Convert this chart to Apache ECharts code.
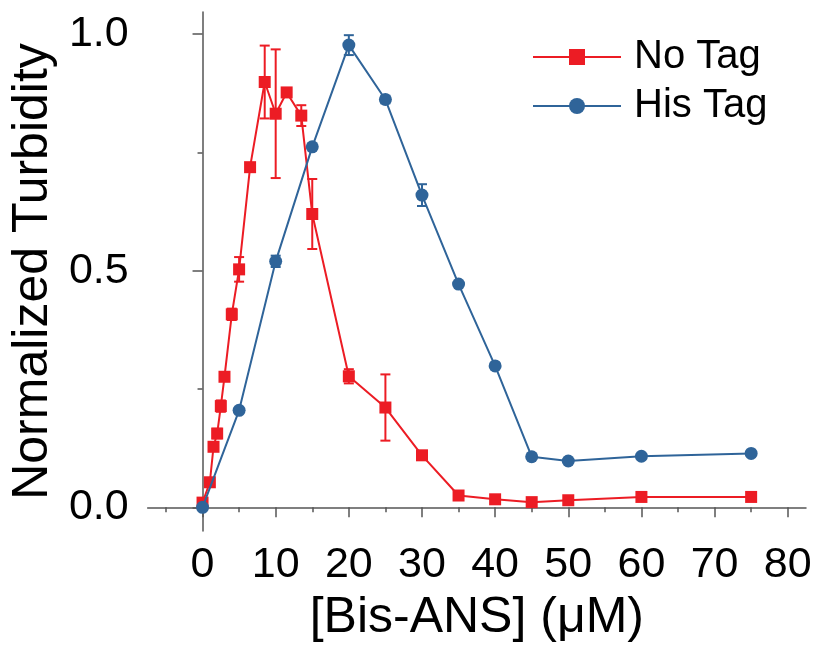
<!DOCTYPE html>
<html>
<head>
<meta charset="utf-8">
<script src="https://cdn.jsdelivr.net/npm/echarts@6/dist/echarts.min.js"></script>
<style>html,body{margin:0;padding:0;background:#fff}#c{width:815px;height:648px}</style>
</head>
<body>
<div id="c"></div>
<script>
// ---- data ----
var noTagX   = [0, 1, 1.5, 2, 2.5, 3, 4, 5, 6.5, 8.5, 10, 11.5, 13.5, 15, 20, 25, 30, 35, 40, 45, 50, 60, 75];
var noTagY   = [0.01, 0.053, 0.128, 0.156, 0.214, 0.276, 0.408, 0.503, 0.719, 0.899, 0.832, 0.877, 0.828, 0.62, 0.277, 0.211, 0.11, 0.025, 0.017, 0.011, 0.015, 0.022, 0.022];
var noTagErr = [0.008, 0, 0, 0.01, 0.012, 0, 0.012, 0.026, 0, 0.077, 0.136, 0, 0.022, 0.074, 0.015, 0.07, 0, 0, 0, 0, 0, 0, 0];
var hisTagX   = [0, 5, 10, 15, 20, 25, 30, 35, 40, 45, 50, 60, 75];
var hisTagY   = [0.0, 0.205, 0.52, 0.762, 0.977, 0.862, 0.66, 0.472, 0.299, 0.107, 0.098, 0.108, 0.114];
var hisTagErr = [0, 0, 0.012, 0, 0.021, 0.008, 0.023, 0, 0, 0, 0, 0, 0];
var xMajorTicks = [0, 10, 20, 30, 40, 50, 60, 70, 80];
var xMinorTicks = [-5, 5, 15, 25, 35, 45, 55, 65, 75];
var yMajorTicks = [0, 0.5, 1.0];
var yMinorTicks = [0.25, 0.75];

var RED = '#ec1c24', BLUE = '#2f6499';
var FONT = 'Liberation Sans, Arial, sans-serif';

function pts(xs, ys) { return xs.map(function (x, i) { return [x, ys[i]]; }); }
function errs(xs, ys, es) {
  var out = [];
  xs.forEach(function (x, i) { if (es[i] > 0) out.push([x, ys[i], es[i]]); });
  return out;
}
function errRender(color) {
  return function (params, api) {
    var x = api.value(0), y = api.value(1), e = api.value(2);
    var top = api.coord([x, y + e]), bot = api.coord([x, y - e]);
    var hw = 5;
    var st = { stroke: color, lineWidth: 2 };
    return {
      type: 'group',
      children: [
        { type: 'line', shape: { x1: top[0], y1: top[1], x2: bot[0], y2: bot[1] }, style: st },
        { type: 'line', shape: { x1: top[0] - hw, y1: top[1], x2: top[0] + hw, y2: top[1] }, style: st },
        { type: 'line', shape: { x1: bot[0] - hw, y1: bot[1], x2: bot[0] + hw, y2: bot[1] }, style: st }
      ]
    };
  };
}

var axisCol = '#555';
var chart = echarts.init(document.getElementById('c'), null, { renderer: 'canvas' });
chart.setOption({
  animation: false,
  backgroundColor: '#fff',
  grid: { left: 145, right: 9, top: 12, bottom: 115, containLabel: false },
  legend: {
    orient: 'vertical', left: 532, top: 37, padding: 0,
    itemWidth: 88, itemHeight: 20, itemGap: 9,
    textStyle: { fontSize: 40, fontFamily: FONT, color: '#000', lineHeight: 40, padding: [0, 0, 0, 8] },
    data: ['No Tag', 'His Tag']
  },
  xAxis: [{
    type: 'value', min: -7.5, max: 82.5,
    name: '[Bis-ANS] (\u03bcM)', nameLocation: 'middle', nameGap: 62,
    nameTextStyle: { fontSize: 50, fontFamily: FONT, color: '#000' },
    axisLine: { show: true, lineStyle: { color: axisCol, width: 1.5 } },
    axisTick: { show: true, length: 10, customValues: xMajorTicks, lineStyle: { color: axisCol, width: 1.5 } },
    axisLabel: { customValues: xMajorTicks, margin: 13, fontSize: 43, fontFamily: FONT, color: '#000' },
    splitLine: { show: false }
  }, {
    type: 'value', min: -7.5, max: 82.5, position: 'bottom',
    axisLine: { show: false },
    axisTick: { show: true, length: 5, customValues: xMinorTicks, lineStyle: { color: axisCol, width: 1.5 } },
    axisLabel: { show: false, customValues: xMinorTicks },
    splitLine: { show: false }
  }],
  yAxis: [{
    type: 'value', min: -0.05, max: 1.047,
    name: 'Normalized Turbidity', nameLocation: 'middle', nameGap: 85,
    nameTextStyle: { fontSize: 50, fontFamily: FONT, color: '#000' },
    axisLine: { show: true, lineStyle: { color: axisCol, width: 1.5 } },
    axisTick: { show: true, length: 10, customValues: yMajorTicks, lineStyle: { color: axisCol, width: 1.5 } },
    axisLabel: { customValues: yMajorTicks, margin: 19, fontSize: 43, fontFamily: FONT, color: '#000',
      formatter: function (v) { return v.toFixed(1); } },
    splitLine: { show: false }
  }, {
    type: 'value', min: -0.05, max: 1.047, position: 'left',
    axisLine: { show: false },
    axisTick: { show: true, length: 5, customValues: yMinorTicks, lineStyle: { color: axisCol, width: 1.5 } },
    axisLabel: { show: false, customValues: yMinorTicks },
    splitLine: { show: false }
  }],
  series: [
    {
      name: 'No Tag', type: 'line', data: pts(noTagX, noTagY),
      symbol: 'rect', symbolSize: 12,
      lineStyle: { color: RED, width: 2 }, itemStyle: { color: RED }, z: 3
    },
    {
      name: 'No Tag err', type: 'custom', data: errs(noTagX, noTagY, noTagErr),
      renderItem: errRender(RED), encode: { x: 0, y: 1 }, z: 3, silent: true
    },
    {
      name: 'His Tag', type: 'line', data: pts(hisTagX, hisTagY),
      symbol: 'circle', symbolSize: 13,
      lineStyle: { color: BLUE, width: 2 }, itemStyle: { color: BLUE }, z: 4
    },
    {
      name: 'His Tag err', type: 'custom', data: errs(hisTagX, hisTagY, hisTagErr),
      renderItem: errRender(BLUE), encode: { x: 0, y: 1 }, z: 4, silent: true
    }
  ]
});
</script>
</body>
</html>
